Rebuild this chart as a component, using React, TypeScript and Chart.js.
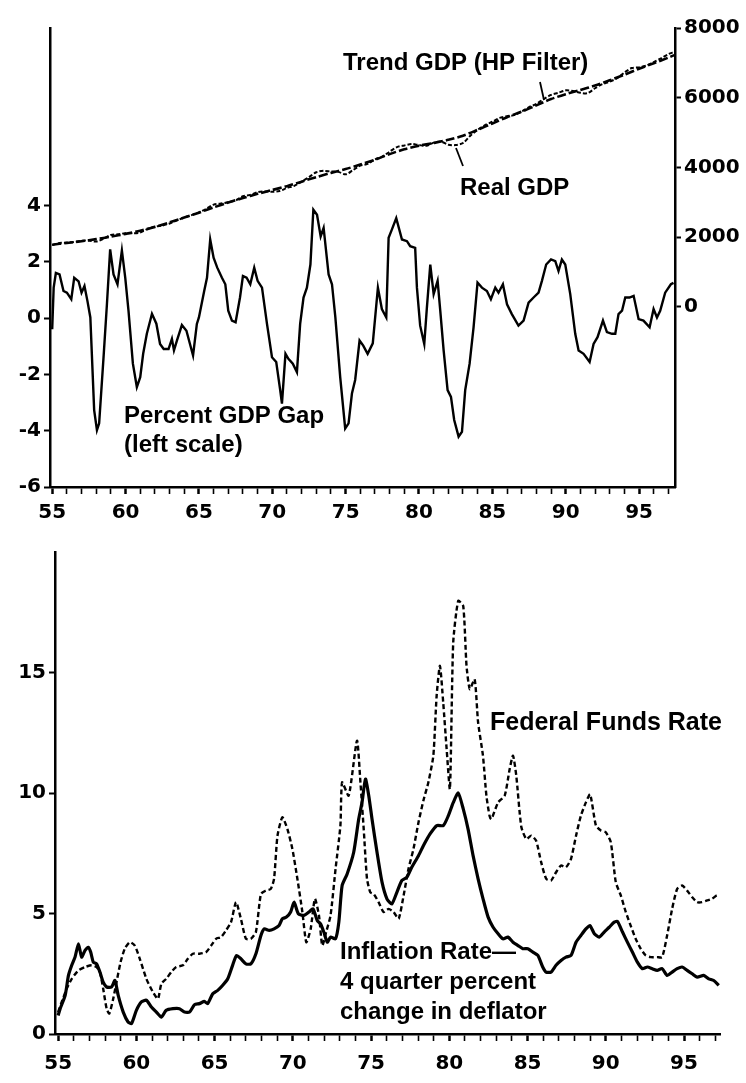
import React, { useEffect, useRef } from "react";
import { Chart, registerables } from "chart.js";
Chart.register(...registerables);

// ---------- tick labels ----------
const xTickLabels = ["55", "60", "65", "70", "75", "80", "85", "90", "95"];
const gapTicks = [-6, -4, -2, 0, 2, 4];
const gdpTicks = [0, 2000, 4000, 6000, 8000];
const rateTicks = [0, 5, 10, 15];

// ---------- top panel: percent GDP gap (left scale) ----------
const gapYears = [
  1955.0, 1955.1, 1955.25, 1955.5, 1955.77, 1956.0, 1956.3, 1956.5, 1956.8, 1957.0,
  1957.2, 1957.4, 1957.6, 1957.86, 1958.05, 1958.2, 1958.5, 1958.73, 1958.95, 1959.18,
  1959.45, 1959.75, 1959.98, 1960.2, 1960.5, 1960.77, 1961.0, 1961.2, 1961.45, 1961.8,
  1962.1, 1962.35, 1962.6, 1962.93, 1963.16, 1963.3, 1963.5, 1963.84, 1964.15, 1964.6,
  1964.86, 1965.0, 1965.36, 1965.55, 1965.77, 1966.0, 1966.25, 1966.57, 1966.8, 1967.0,
  1967.25, 1967.5, 1967.8, 1968.0, 1968.25, 1968.5, 1968.77, 1969.0, 1969.3, 1969.64,
  1969.98, 1970.27, 1970.54, 1970.66, 1970.9, 1971.1, 1971.4, 1971.68, 1971.9, 1972.13,
  1972.36, 1972.6, 1972.8, 1973.05, 1973.3, 1973.5, 1973.84, 1974.07, 1974.3, 1974.63,
  1974.97, 1975.2, 1975.43, 1975.65, 1975.95, 1976.2, 1976.5, 1976.85, 1977.2, 1977.47,
  1977.77, 1977.93, 1978.15, 1978.45, 1978.84, 1979.18, 1979.4, 1979.74, 1979.86, 1980.08,
  1980.36, 1980.54, 1980.77, 1981.0, 1981.27, 1981.45, 1981.68, 1981.95, 1982.18, 1982.4,
  1982.7, 1982.93, 1983.15, 1983.45, 1983.72, 1983.99, 1984.29, 1984.63, 1984.9, 1985.2,
  1985.42, 1985.72, 1986.0, 1986.33, 1986.78, 1987.13, 1987.47, 1987.81, 1988.15, 1988.38,
  1988.67, 1989.0, 1989.29, 1989.51, 1989.74, 1989.97, 1990.31, 1990.65, 1990.88, 1991.22,
  1991.63, 1991.9, 1992.17, 1992.54, 1992.81, 1993.15, 1993.38, 1993.6, 1993.84, 1994.06,
  1994.35, 1994.63, 1994.97, 1995.3, 1995.72, 1995.99, 1996.22, 1996.44, 1996.78, 1997.17,
  1997.35,
];
const gapValues = [
  -0.4, 1.08, 1.6, 1.55, 0.96, 0.9, 0.67, 1.43, 1.3, 0.9,
  1.14, 0.61, 0.02, -3.27, -3.98, -3.74, -1.39, 0.49, 2.44, 1.55,
  1.2, 2.4, 1.43, 0.26, -1.62, -2.45, -2.1, -1.27, -0.56, 0.15,
  -0.2, -0.92, -1.1, -1.1, -0.74, -1.15, -0.8, -0.25, -0.45, -1.33,
  -0.21, 0.02, 0.96, 1.43, 2.79, 2.14, 1.79, 1.43, 1.2, 0.26,
  -0.09, -0.15, 0.73, 1.49, 1.43, 1.2, 1.79, 1.32, 1.08, -0.21,
  -1.39, -1.56, -2.56, -3.04, -1.27, -1.45, -1.62, -1.92, -0.21, 0.73,
  1.08, 1.9, 3.85, 3.67, 2.9, 3.2, 1.55, 1.2, 0.02, -2.1,
  -3.92, -3.74, -2.68, -2.2, -0.8, -0.98, -1.27, -0.9, 1.08, 0.32,
  0.02, 2.85, 3.14, 3.55, 2.79, 2.73, 2.55, 2.49, 1.08, -0.27,
  -0.92, 0.38, 1.9, 0.85, 1.32, 0.26, -1.15, -2.56, -2.8, -3.62,
  -4.21, -4.04, -2.56, -1.62, -0.33, 1.26, 1.08, 0.96, 0.67, 1.08,
  0.9, 1.2, 0.49, 0.14, -0.27, -0.09, 0.55, 0.73, 0.9, 1.32,
  1.9, 2.08, 2.02, 1.67, 2.08, 1.9, 0.85, -0.56, -1.15, -1.27,
  -1.56, -0.92, -0.68, -0.09, -0.5, -0.56, -0.56, 0.14, 0.26, 0.73,
  0.73, 0.79, -0.04, -0.09, -0.33, 0.32, 0.02, 0.26, 0.9, 1.2,
  1.25,
];

// ---------- top panel: GDP levels (right scale) ----------
const trendYears = [
  1955, 1956, 1957, 1958, 1959, 1960, 1961, 1962, 1963, 1964, 1965, 1966, 1967, 1968,
  1969, 1970, 1971, 1972, 1973, 1974, 1975, 1976, 1977, 1978, 1979, 1980, 1981, 1982,
  1983, 1984, 1985, 1986, 1987, 1988, 1989, 1990, 1991, 1992, 1993, 1994, 1995, 1996,
  1997, 1997.4,
];
const trendValues = [
  1780, 1830, 1880, 1940, 2010, 2090, 2180, 2290, 2420, 2560, 2700, 2850, 2990, 3120,
  3240, 3350, 3460, 3590, 3720, 3840, 3950, 4080, 4220, 4380, 4520, 4620, 4700, 4790,
  4910, 5080, 5260, 5440, 5600, 5780, 5960, 6100, 6220, 6350, 6500, 6660, 6830, 6990,
  7150, 7220,
];
const realYears = [
  1955, 1955.5, 1956, 1956.5, 1957, 1957.5, 1958, 1958.5, 1959, 1959.5, 1960, 1960.5,
  1961, 1961.5, 1962, 1962.5, 1963, 1963.5, 1964, 1964.5, 1965, 1965.5, 1966, 1966.5,
  1967, 1967.5, 1968, 1968.5, 1969, 1969.5, 1970, 1970.5, 1971, 1971.5, 1972, 1972.5,
  1973, 1973.5, 1974, 1974.5, 1975, 1975.5, 1976, 1976.5, 1977, 1977.5, 1978, 1978.5,
  1979, 1979.5, 1980, 1980.5, 1981, 1981.5, 1982, 1982.5, 1983, 1983.5, 1984, 1984.5,
  1985, 1985.5, 1986, 1986.5, 1987, 1987.5, 1988, 1988.5, 1989, 1989.5, 1990, 1990.5,
  1991, 1991.5, 1992, 1992.5, 1993, 1993.5, 1994, 1994.5, 1995, 1995.5, 1996, 1996.5,
  1997, 1997.4,
];
const realValues = [
  1770, 1830, 1840, 1860, 1890, 1900, 1870, 1950, 2060, 2080, 2110, 2110,
  2130, 2230, 2300, 2330, 2390, 2480, 2560, 2630, 2710, 2810, 2930, 2960,
  3000, 3050, 3170, 3210, 3290, 3310, 3300, 3320, 3410, 3470, 3590, 3720,
  3860, 3900, 3880, 3870, 3800, 3920, 4050, 4100, 4230, 4310, 4450, 4580,
  4630, 4670, 4640, 4620, 4710, 4740, 4650, 4640, 4700, 4910, 5080, 5210,
  5310, 5420, 5470, 5500, 5600, 5730, 5820, 5960, 6080, 6140, 6210, 6190,
  6140, 6130, 6270, 6390, 6460, 6560, 6720, 6850, 6870, 6920, 7020, 7130,
  7250, 7310,
];

// ---------- bottom panel: inflation & federal funds rate ----------
const inflYears = [
  1955.0, 1955.13, 1955.45, 1955.66, 1955.87, 1956.08, 1956.3, 1956.5, 1956.72, 1956.93,
  1957.08, 1957.25, 1957.46, 1957.67, 1957.88, 1958.1, 1958.41, 1958.63, 1958.84, 1959.16,
  1959.47, 1959.69, 1960.0, 1960.32, 1960.64, 1960.96, 1961.28, 1961.6, 1961.9, 1962.34,
  1962.76, 1963.08, 1963.4, 1963.72, 1964.03, 1964.35, 1964.56, 1964.88, 1965.2, 1965.52,
  1965.84, 1966.15, 1966.4, 1966.68, 1967.0, 1967.32, 1967.64, 1967.96, 1968.17, 1968.49,
  1968.8, 1969.12, 1969.33, 1969.59, 1969.86, 1970.08, 1970.35, 1970.71, 1971.03, 1971.29,
  1971.56, 1971.77, 1971.98, 1972.2, 1972.41, 1972.73, 1972.94, 1973.15, 1973.47, 1973.89,
  1974.21, 1974.42, 1974.64, 1974.85, 1975.06, 1975.38, 1975.7, 1976.02, 1976.33, 1976.65,
  1976.97, 1977.28, 1977.6, 1978.03, 1978.35, 1978.77, 1979.2, 1979.62, 1979.94, 1980.25,
  1980.57, 1980.89, 1981.2, 1981.52, 1981.84, 1982.16, 1982.48, 1982.8, 1983.12, 1983.43,
  1983.75, 1984.07, 1984.39, 1984.7, 1985.02, 1985.34, 1985.66, 1985.97, 1986.18, 1986.5,
  1986.82, 1987.14, 1987.46, 1987.78, 1988.1, 1988.41, 1988.73, 1988.99, 1989.27, 1989.58,
  1989.9, 1990.22, 1990.54, 1990.75, 1991.07, 1991.38, 1991.7, 1992.02, 1992.34, 1992.66,
  1992.97, 1993.29, 1993.6, 1993.93, 1994.24, 1994.56, 1994.88, 1995.2, 1995.52, 1995.84,
  1996.26, 1996.58, 1996.9, 1997.22,
];
const inflValues = [
  0.77, 1.05, 1.6, 2.43, 2.85, 3.19, 3.74, 3.19, 3.47, 3.6,
  3.4, 2.98, 2.91, 2.57, 2.15, 1.95, 1.95, 2.22, 1.6, 0.91,
  0.5, 0.43, 0.98, 1.33, 1.4, 1.12, 0.91, 0.7, 0.98, 1.05,
  1.05, 0.91, 0.91, 1.22, 1.26, 1.35, 1.26, 1.67, 1.81, 2.02,
  2.29, 2.85, 3.26, 3.12, 2.91, 2.91, 3.33, 4.09, 4.36, 4.3,
  4.36, 4.5, 4.78, 4.85, 5.06, 5.47, 4.99, 4.92, 5.06, 5.19,
  4.71, 4.57, 4.23, 3.81, 4.02, 3.95, 4.64, 6.16, 6.64, 7.54,
  8.92, 9.6, 10.58, 9.9, 8.92, 7.54, 6.3, 5.6, 5.4, 5.88,
  6.37, 6.5, 6.92, 7.4, 7.82, 8.3, 8.65, 8.65, 9.06, 9.6,
  10.0, 9.34, 8.5, 7.4, 6.44, 5.6, 4.85, 4.43, 4.16, 3.95,
  4.02, 3.81, 3.67, 3.54, 3.54, 3.4, 3.26, 2.78, 2.57, 2.57,
  2.85, 3.05, 3.19, 3.26, 3.81, 4.09, 4.36, 4.5, 4.16, 4.02,
  4.23, 4.43, 4.64, 4.67, 4.23, 3.81, 3.4, 2.98, 2.71, 2.78,
  2.71, 2.64, 2.71, 2.43, 2.57, 2.71, 2.78, 2.64, 2.5, 2.36,
  2.43, 2.29, 2.22, 2.02,
];
const fedYears = [
  1955.0, 1955.23, 1955.55, 1955.87, 1956.3, 1956.72, 1957.14, 1957.46, 1957.67, 1957.88,
  1958.1, 1958.27, 1958.52, 1958.73, 1958.99, 1959.26, 1959.58, 1959.9, 1960.22, 1960.64,
  1961.06, 1961.38, 1961.6, 1961.91, 1962.23, 1962.55, 1962.97, 1963.29, 1963.61, 1964.03,
  1964.46, 1964.78, 1965.09, 1965.41, 1965.73, 1966.05, 1966.37, 1966.68, 1967.0, 1967.32,
  1967.64, 1967.96, 1968.27, 1968.59, 1968.8, 1969.02, 1969.33, 1969.65, 1969.97, 1970.29,
  1970.61, 1970.86, 1971.14, 1971.41, 1971.67, 1971.88, 1972.13, 1972.41, 1972.73, 1973.04,
  1973.15, 1973.57, 1974.1, 1974.32, 1974.53, 1974.74, 1974.95, 1975.17, 1975.48, 1975.8,
  1976.12, 1976.44, 1976.76, 1977.08, 1977.39, 1977.71, 1978.03, 1978.35, 1978.66, 1978.98,
  1979.19, 1979.4, 1979.61, 1979.83, 1980.04, 1980.25, 1980.57, 1980.89, 1981.1, 1981.31,
  1981.62, 1981.84, 1982.15, 1982.37, 1982.57, 1982.69, 1983.12, 1983.54, 1983.86, 1984.07,
  1984.28, 1984.6, 1984.92, 1985.24, 1985.55, 1985.87, 1986.19, 1986.5, 1986.82, 1987.14,
  1987.46, 1987.78, 1988.1, 1988.41, 1988.73, 1989.0, 1989.37, 1989.69, 1990.0, 1990.32,
  1990.64, 1990.96, 1991.28, 1991.59, 1991.91, 1992.23, 1992.55, 1992.87, 1993.29, 1993.6,
  1993.92, 1994.24, 1994.56, 1994.88, 1995.2, 1995.52, 1995.84, 1996.15, 1996.47, 1996.79,
  1997.1, 1997.22,
];
const fedValues = [
  0.91, 1.33, 1.88, 2.29, 2.64, 2.78, 2.85, 2.78, 2.57, 1.88,
  1.05, 0.85, 1.46, 2.15, 2.98, 3.54, 3.81, 3.67, 3.12, 2.29,
  1.74, 1.46, 2.09, 2.29, 2.57, 2.78, 2.85, 3.12, 3.33, 3.33,
  3.4, 3.67, 3.95, 4.02, 4.3, 4.64, 5.47, 4.78, 3.95, 3.95,
  4.23, 5.81, 5.95, 6.02, 6.44, 8.23, 8.99, 8.51, 7.68, 6.44,
  5.06, 3.81, 4.36, 5.61, 4.92, 3.67, 4.23, 4.92, 6.85, 8.65,
  10.44, 9.89, 12.17, 10.44, 8.5, 6.44, 5.88, 5.81, 5.47, 5.06,
  5.19, 5.06, 4.78, 5.75, 6.85, 7.68, 8.78, 9.7, 10.44, 11.55,
  14.03, 15.28, 13.76, 11.82, 10.17, 16.24, 17.97, 17.76, 15.28, 14.31,
  14.72, 12.93, 11.55, 9.89, 9.06, 8.92, 9.61, 9.89, 11.0, 11.55,
  10.72, 8.6, 8.09, 8.23, 8.02, 7.13, 6.44, 6.37, 6.71, 6.99,
  6.92, 7.27, 8.23, 9.06, 9.61, 9.95, 8.65, 8.44, 8.37, 7.96,
  6.3, 5.75, 5.06, 4.5, 3.95, 3.54, 3.26, 3.19, 3.19, 3.19,
  4.09, 5.19, 6.02, 6.16, 5.95, 5.68, 5.47, 5.47, 5.54, 5.61,
  5.75, 5.68,
];

// ---------- helpers ----------
const pts = (xs: number[], ys: number[]) => xs.map((x, i) => ({ x, y: ys[i] }));
const yearTicks: number[] = [];
for (let y = 1955; y <= 1997; y++) yearTicks.push(y);

const TICK_FONT = { family: "'DejaVu Sans', sans-serif", weight: "bold" as const, size: 20 };
const LABEL_FAMILY = "'Liberation Sans', Arial, sans-serif";

const textPlugin = {
  id: "texts",
  afterDraw(chart: any, _args: any, opts: any) {
    const ctx = chart.ctx;
    ctx.save();
    ctx.fillStyle = "#000";
    ctx.strokeStyle = "#000";
    ctx.textBaseline = "middle";
    ctx.textAlign = "left";
    for (const t of opts.items || []) {
      ctx.font = `bold ${t.size}px ${LABEL_FAMILY}`;
      ctx.fillText(t.text, t.x, t.y);
    }
    ctx.lineWidth = 1.8;
    for (const l of opts.lines || []) {
      ctx.beginPath();
      ctx.moveTo(l[0], l[1]);
      ctx.lineTo(l[2], l[3]);
      ctx.stroke();
    }
    ctx.restore();
  },
};

function xAxis(min: number, max: number, height: number, pad: number) {
  return {
    type: "linear",
    min,
    max,
    afterBuildTicks: (s: any) => {
      s.ticks = yearTicks.map((v) => ({ value: v }));
    },
    afterFit: (s: any) => {
      s.height = height;
    },
    border: { display: true, color: "#000", width: 2.5 },
    grid: {
      drawOnChartArea: false,
      drawTicks: true,
      tickLength: 7,
      tickColor: "#000",
      tickWidth: (c: any) => (c.tick && c.tick.value % 5 === 0 ? 2.5 : 1.6),
    },
    ticks: {
      autoSkip: false,
      maxRotation: 0,
      padding: pad,
      color: "#000",
      font: TICK_FONT,
      callback: (v: number) => (v % 5 === 0 ? xTickLabels[(v - 1955) / 5] ?? "" : ""),
    },
  };
}

function yAxis(position: string, min: number, max: number, tickVals: number[], width: number) {
  return {
    type: "linear",
    position,
    min,
    max,
    afterBuildTicks: (s: any) => {
      s.ticks = tickVals.map((v) => ({ value: v }));
    },
    afterFit: (s: any) => {
      s.width = width;
    },
    border: { display: true, color: "#000", width: 2.5 },
    grid: { drawOnChartArea: false, drawTicks: true, tickLength: 6, tickColor: "#000", tickWidth: 2 },
    ticks: { padding: 3, color: "#000", font: TICK_FONT, callback: (v: number) => String(v) },
  };
}

function TopChart() {
  const ref = useRef<HTMLCanvasElement>(null);
  useEffect(() => {
    const chart = new Chart(ref.current as HTMLCanvasElement, {
      type: "line",
      data: {
        datasets: [
          {
            label: "Percent GDP Gap",
            data: pts(gapYears, gapValues),
            yAxisID: "yL",
            borderColor: "#000",
            borderWidth: 2.4,
            pointRadius: 0,
            tension: 0,
          },
          {
            label: "Real GDP",
            data: pts(realYears, realValues),
            yAxisID: "yR",
            borderColor: "#000",
            borderWidth: 2,
            borderDash: [4, 2],
            pointRadius: 0,
            tension: 0.3,
          },
          {
            label: "Trend GDP (HP Filter)",
            data: pts(trendYears, trendValues),
            yAxisID: "yR",
            borderColor: "#000",
            borderWidth: 2.6,
            borderDash: [9, 3],
            pointRadius: 0,
            tension: 0.3,
          },
        ],
      },
      options: {
        animation: false,
        responsive: false,
        maintainAspectRatio: false,
        layout: { padding: { top: 28, left: 0, right: 0, bottom: 0 } },
        plugins: {
          legend: { display: false },
          tooltip: { enabled: false },
          texts: {
            items: [
              { text: "Trend GDP (HP Filter)", x: 343, y: 63, size: 24 },
              { text: "Real GDP", x: 460, y: 188, size: 24 },
              { text: "Percent GDP Gap", x: 124, y: 416, size: 24 },
              { text: "(left scale)", x: 124, y: 445, size: 24 },
            ],
            lines: [
              [540, 82, 544, 100],
              [456, 148, 463, 166],
            ],
          },
        } as any,
        scales: {
          x: xAxis(1954.85, 1997.45, 46, 7),
          yL: yAxis("left", -6, 10.3, gapTicks, 50),
          yR: yAxis("right", -5175, 8000, gdpTicks, 71),
        } as any,
      },
      plugins: [textPlugin],
    } as any);
    return () => chart.destroy();
  }, []);
  return (
    <canvas
      ref={ref}
      width={746}
      height={533}
      style={{ position: "absolute", left: 0, top: 0, width: 746, height: 533 }}
    />
  );
}

function BottomChart() {
  const ref = useRef<HTMLCanvasElement>(null);
  useEffect(() => {
    const chart = new Chart(ref.current as HTMLCanvasElement, {
      type: "line",
      data: {
        datasets: [
          {
            label: "Inflation Rate",
            data: pts(inflYears, inflValues),
            borderColor: "#000",
            borderWidth: 3.2,
            pointRadius: 0,
            tension: 0.2,
          },
          {
            label: "Federal Funds Rate",
            data: pts(fedYears, fedValues),
            borderColor: "#000",
            borderWidth: 2.4,
            borderDash: [5, 3],
            pointRadius: 0,
            tension: 0.2,
          },
        ],
      },
      options: {
        animation: false,
        responsive: false,
        maintainAspectRatio: false,
        layout: { padding: { top: 22, left: 0, right: 26, bottom: 0 } },
        plugins: {
          legend: { display: false },
          tooltip: { enabled: false },
          texts: {
            items: [
              { text: "Federal Funds Rate", x: 490, y: 723 - 530, size: 25 },
              { text: "Inflation Rate\u2014", x: 340, y: 952 - 530, size: 24 },
              { text: "4 quarter percent", x: 340, y: 982 - 530, size: 24 },
              { text: "change in deflator", x: 340, y: 1012 - 530, size: 24 },
            ],
            lines: [],
          },
        } as any,
        scales: {
          x: xAxis(1954.8, 1997.3, 49, 11),
          y: yAxis("left", 0, 20, rateTicks, 55),
        } as any,
      },
      plugins: [textPlugin],
    } as any);
    return () => chart.destroy();
  }, []);
  return (
    <canvas
      ref={ref}
      width={746}
      height={553}
      style={{ position: "absolute", left: 0, top: 530, width: 746, height: 553 }}
    />
  );
}

export default function App() {
  return (
    <div
      style={{
        position: "absolute",
        left: 0,
        top: 0,
        width: 746,
        height: 1083,
        background: "#fff",
        overflow: "hidden",
      }}
    >
      <TopChart />
      <BottomChart />
    </div>
  );
}
